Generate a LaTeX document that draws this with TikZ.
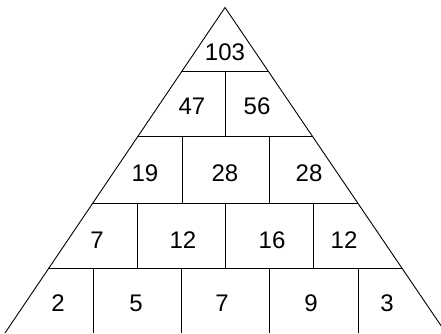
\documentclass[tikz,border=0pt]{standalone}
\usepackage{fontspec}
\setmainfont{Liberation Sans}
\begin{document}
\begin{tikzpicture}[x=1pt,y=-1pt,
  edge/.style={draw=black,line width=0.9pt},
  grid/.style={draw=black,line width=0.8pt},
  num/.style={font=\fontsize{24}{26}\selectfont,text=black,inner sep=0pt,anchor=center}]
\useasboundingbox (0,0) rectangle (441,333);
% outer triangle
\coordinate (apex) at (225,7.5);
\coordinate (bl) at (5,333);
\coordinate (br) at (446,333);
\draw[edge] (bl) -- (apex) -- (br);
% horizontal rows
\draw[grid] (182.1,71) -- (268.1,71);
\draw[grid] (138.1,136) -- (312.3,136);
\draw[grid] (92.8,203) -- (357.7,203);
\draw[grid] (48.9,268) -- (401.9,268);
% vertical separators
\draw[grid] (225,71) -- (225,136);
\draw[grid] (182,136) -- (182,203);
\draw[grid] (269,136) -- (269,203);
\draw[grid] (137,203) -- (137,268);
\draw[grid] (225,203) -- (225,268);
\draw[grid] (313,203) -- (313,268);
\draw[grid] (93,268) -- (93,333);
\draw[grid] (181,268) -- (181,333);
\draw[grid] (269,268) -- (269,333);
\draw[grid] (358,268) -- (358,333);
% numbers
\node[num] (n1) at (225,52) {103};
\node[num] (n21) at (192,106) {47};
\node[num] (n22) at (257,106) {56};
\node[num] (n31) at (145,173) {19};
\node[num] (n32) at (225,173) {28};
\node[num] (n33) at (309,173) {28};
\node[num] (n41) at (97,240) {7};
\node[num] (n42) at (183,240) {12};
\node[num] (n43) at (272,240) {16};
\node[num] (n44) at (344,240) {12};
\node[num] (n51) at (58,303) {2};
\node[num] (n52) at (136,303) {5};
\node[num] (n53) at (222,303) {7};
\node[num] (n54) at (311,303) {9};
\node[num] (n55) at (387,303) {3};
\end{tikzpicture}
\end{document}
